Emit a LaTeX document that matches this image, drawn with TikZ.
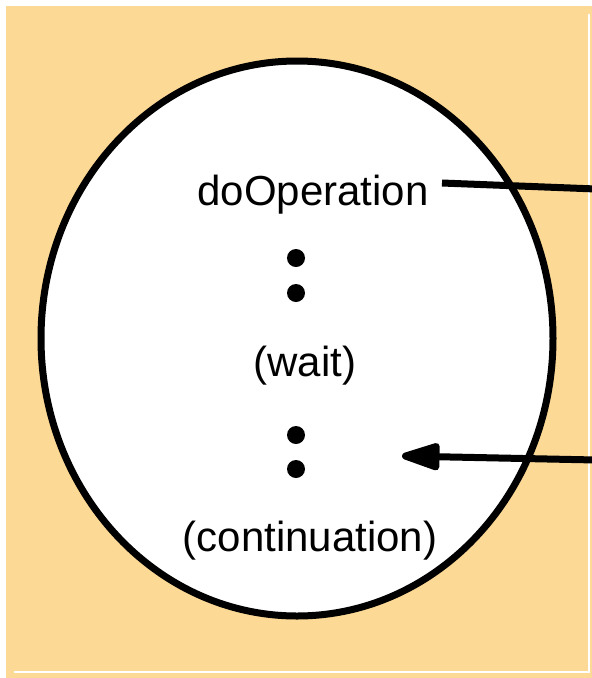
\documentclass[tikz,border=0pt]{standalone}
\usepackage{fontspec}
\setmainfont{Liberation Sans}
\usetikzlibrary{arrows.meta}
\definecolor{bgorange}{RGB}{253,217,150}
\tikzset{
  lbl/.style={inner sep=0pt, anchor=base, font=\fontsize{42}{50}\selectfont},
  dotnode/.style={circle, fill=black, inner sep=0pt, minimum size=18pt},
  conn/.style={line width=7pt},
}
\begin{document}
\begin{tikzpicture}[x={(1pt,0pt)}, y={(0pt,-1pt)}]
\useasboundingbox (0,0) rectangle (592,678);
\fill[bgorange] (6,6) rectangle (592,678);
\draw[white, line width=1.5pt] (14,672) -- (590,672);
\draw[white, line width=1.5pt] (589,14) -- (589,672);
\draw[line width=7pt, fill=white] (297,338.5) ellipse [x radius=256, y radius=277.5];
\node[lbl] (op) at (313,205) {doOperation};
\node[lbl] (wait) at (305,376) {(wait)};
\node[lbl] (cont) at (310,551) {(continuation)};
\node[dotnode] (d1) at (296,258) {};
\node[dotnode] (d2) at (296,293) {};
\node[dotnode] (d3) at (296,435) {};
\node[dotnode] (d4) at (296,469) {};
\coordinate (r1) at (596,189);
\coordinate (r2) at (596,460);
\coordinate (tip) at (402,456);
\draw[conn] (442,183) -- (r1);
\draw[conn, -{Triangle[length=46pt,width=28pt,round]}] (r2) -- (tip);
\end{tikzpicture}
\end{document}
